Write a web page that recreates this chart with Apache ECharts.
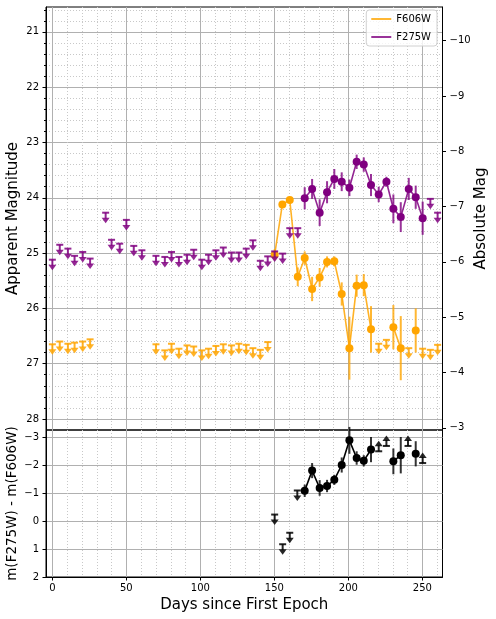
<!DOCTYPE html>
<html>
<head>
<meta charset="utf-8">
<script src="https://cdn.jsdelivr.net/npm/echarts@6/dist/echarts.min.js"></script>
<style>
  html, body { margin: 0; padding: 0; background: #fff; }
  #chart { width: 496px; height: 619px; }
</style>
</head>
<body>
<div id="chart"></div>
<script>
// F275W (purple) detections
const uvDays = [170.5, 175.5, 180.6, 185.6, 190.5, 195.5, 200.7, 205.6, 210.4, 215.3, 220.5, 225.7, 230.4, 235.4, 240.8, 245.5, 250.2];
const uvMag = [24.01, 23.84, 24.27, 23.90, 23.66, 23.71, 23.82, 23.35, 23.40, 23.77, 23.94, 23.71, 24.20, 24.35, 23.84, 23.99, 24.37];
const uvErr = [0.20, 0.18, 0.24, 0.20, 0.18, 0.17, 0.15, 0.13, 0.13, 0.20, 0.14, 0.09, 0.26, 0.27, 0.20, 0.21, 0.30];
// F275W upper limits
const uvLimDays = [0, 5, 10.5, 15, 20.5, 25.5, 36, 40, 45.5, 50, 55, 60.5, 70, 76, 80.5, 85.5, 91, 95.5, 101, 105.5, 110.5, 115.5, 121, 126, 131, 135.5, 140.5, 145.5, 150.2, 155.6, 160.4, 165.8, 255.4, 260.3];
const uvLimMag = [25.12, 24.85, 24.92, 25.05, 24.98, 25.10, 24.27, 24.76, 24.83, 24.40, 24.87, 24.95, 25.05, 25.07, 24.98, 25.07, 25.03, 24.94, 25.12, 25.03, 24.95, 24.90, 24.99, 24.99, 24.92, 24.77, 25.14, 25.06, 24.97, 25.01, 24.55, 24.55, 24.02, 24.27];

// F606W (orange) detections
const visDays = [150.2, 155.4, 160.4, 165.8, 170.5, 175.5, 180.6, 185.6, 190.5, 195.5, 200.7, 205.6, 210.4, 215.3, 230.4, 235.4, 245.5];
const visMag = [25.03, 24.12, 24.04, 25.43, 25.09, 25.65, 25.44, 25.16, 25.15, 25.74, 26.72, 25.59, 25.58, 26.38, 26.34, 26.72, 26.40];
const visErr = [0.10, 0.04, 0.04, 0.17, 0.12, 0.22, 0.17, 0.10, 0.09, 0.21, 0.57, 0.20, 0.20, 0.42, 0.40, 0.58, 0.40];
// F606W upper limits
const visLimDays = [0, 5, 10.5, 15, 20.5, 25.5, 70, 76, 80.5, 85.5, 91, 95.5, 101, 105.5, 110.5, 115.5, 121, 126, 131, 135.5, 140.5, 145.5, 220.5, 225.7, 240.8, 250.2, 255.4, 260.3];
const visLimMag = [26.65, 26.60, 26.64, 26.62, 26.60, 26.56, 26.65, 26.76, 26.64, 26.73, 26.67, 26.69, 26.76, 26.73, 26.68, 26.65, 26.67, 26.64, 26.66, 26.72, 26.75, 26.61, 26.64, 26.57, 26.72, 26.73, 26.75, 26.66];

// colour m(F275W) - m(F606W)
const colDays = [170.5, 175.5, 180.6, 185.6, 190.5, 195.5, 200.7, 205.6, 210.4, 215.3, 230.4, 235.4, 245.5];
const colVal = [-1.08, -1.80, -1.18, -1.25, -1.47, -2.00, -2.88, -2.25, -2.15, -2.55, -2.13, -2.35, -2.40];
const colErr = [0.22, 0.27, 0.28, 0.22, 0.18, 0.27, 0.48, 0.24, 0.20, 0.45, 0.46, 0.65, 0.45];
const colUpDays = [150.2, 155.6, 160.4, 165.5];      // arrows pointing down
const colUpVal = [-0.23, 0.83, 0.42, -1.09];
const colLoDays = [220.5, 225.7, 240.3, 250.2];      // arrows pointing up
const colLoVal = [-2.49, -2.68, -2.68, -2.07];

// ticks
const dayTicks = [0, 50, 100, 150, 200, 250];
const appTicks = [21, 22, 23, 24, 25, 26, 27, 28];
const absTicks = [-10, -9, -8, -7, -6, -5, -4, -3];
const colTicks = [-3, -2, -1, 0, 1, 2];
const distMod = 31.16;

const dayMinor = [];
for (let d = 10; d < 264; d += 10) if (d % 50 !== 0) dayMinor.push(d);
const appMinor = [];
for (let i = 103; i <= 140; i++) if (i % 5 !== 0) appMinor.push(Math.round(i * 2) / 10);

const ORANGE = '#ffa500';
const PURPLE = '#800080';
const FONT = 'DejaVu Sans';
const minus = v => String(v).replace('-', '\u2212');

// line through detections, broken where an epoch only has a limit
function lineData(days, mags, limDays) {
    const pts = days.map((d, i) => [d, mags[i]]);
    limDays.forEach(d => pts.push([d, null]));
    pts.sort((a, b) => a[0] - b[0]);
    const first = days[0];
    return pts.filter(p => p[0] >= first);
}

function errSeries(name, days, vals, errs, color, xi, yi) {
    return {
        name: name, type: 'custom', xAxisIndex: xi, yAxisIndex: yi,
        data: days.map((d, i) => [d, vals[i] - errs[i], vals[i] + errs[i]]),
        encode: {x: 0, y: [1, 2]},
        z: 3,
        renderItem: function (params, api) {
            const a = api.coord([api.value(0), api.value(1)]);
            const b = api.coord([api.value(0), api.value(2)]);
            return {
                type: 'line',
                shape: {x1: a[0], y1: a[1], x2: b[0], y2: b[1]},
                style: {stroke: color, lineWidth: 2, opacity: 0.8}
            };
        }
    };
}

// dir = 1 arrow pointing down the page, -1 pointing up
function limSeries(name, days, vals, color, dir, xi, yi) {
    return {
        name: name, type: 'custom', xAxisIndex: xi, yAxisIndex: yi,
        data: days.map((d, i) => [d, vals[i]]),
        encode: {x: 0, y: 1},
        z: 4,
        renderItem: function (params, api) {
            const p = api.coord([api.value(0), api.value(1)]);
            const x = p[0], y = p[1];
            return {
                type: 'group',
                children: [
                    {type: 'line', shape: {x1: x - 3.5, y1: y, x2: x + 3.5, y2: y},
                        style: {stroke: color, lineWidth: 2, opacity: 0.85}},
                    {type: 'line', shape: {x1: x, y1: y, x2: x, y2: y + 6 * dir},
                        style: {stroke: color, lineWidth: 2, opacity: 0.85}},
                    {type: 'polygon', shape: {points: [[x - 4, y + 5 * dir], [x + 4, y + 5 * dir], [x, y + 10.5 * dir]]},
                        style: {fill: color, opacity: 0.85}}
                ]
            };
        }
    };
}

const labelStyle = {fontFamily: FONT, fontSize: 10, color: '#000'};
const majorGrid = {show: true, lineStyle: {color: '#b0b0b0', width: 1, type: 'solid'}};
const minorGrid = {show: true, lineStyle: {color: '#c8c8c8', width: 1, type: [1, 2]}};
const nameStyle = {fontFamily: FONT, fontSize: 15, color: '#000'};
const blackLine = {show: true, onZero: false, lineStyle: {color: '#000'}};
const noLine = {show: false, onZero: false};

const chart = echarts.init(document.getElementById('chart'), null, {renderer: 'canvas'});
chart.setOption({
    animation: false,
    backgroundColor: '#fff',
    grid: [
        {left: 46, right: 53.5, top: 7, height: 423, show: true, borderColor: '#000', borderWidth: 1,
            outerBoundsMode: 'none', containLabel: false},
        {left: 46, right: 53.5, top: 430, height: 147, show: true, borderColor: '#000', borderWidth: 1,
            outerBoundsMode: 'none', containLabel: false}
    ],
    legend: {
        data: [{name: 'F606W', itemStyle: {opacity: 0.8}}, {name: 'F275W', itemStyle: {opacity: 0.8}}],
        orient: 'vertical', right: 59, top: 10,
        icon: 'rect', itemWidth: 20, itemHeight: 2, itemGap: 8,
        padding: [4, 6, 4, 5],
        borderColor: '#d0d0d0', borderWidth: 1, borderRadius: 3,
        backgroundColor: 'rgba(255,255,255,0.8)',
        textStyle: {fontFamily: FONT, fontSize: 10, color: '#000'}
    },
    xAxis: [
        {gridIndex: 0, type: 'value', min: -4.3, max: 263.6,
            axisLine: noLine, axisTick: {show: false, customValues: dayTicks},
            axisLabel: {show: false, customValues: dayTicks}, splitLine: majorGrid},
        {gridIndex: 0, type: 'value', min: -4.3, max: 263.6, position: 'top',
            axisLine: noLine, axisTick: {show: false, customValues: dayMinor},
            axisLabel: {show: false, customValues: dayMinor}, splitLine: minorGrid},
        {gridIndex: 1, type: 'value', min: -4.3, max: 263.6,
            name: 'Days since First Epoch', nameLocation: 'middle', nameGap: 21, nameTextStyle: nameStyle,
            nameMoveOverlap: false,
            axisLine: blackLine,
            axisTick: {show: true, length: 3.5, customValues: dayTicks, lineStyle: {color: '#000'}},
            axisLabel: Object.assign({margin: 6, customValues: dayTicks}, labelStyle), splitLine: majorGrid},
        {gridIndex: 1, type: 'value', min: -4.3, max: 263.6, position: 'top',
            axisLine: noLine, axisTick: {show: false, customValues: dayMinor},
            axisLabel: {show: false, customValues: dayMinor}, splitLine: minorGrid}
    ],
    yAxis: [
        {gridIndex: 0, type: 'value', inverse: true, min: 20.55, max: 28.2, position: 'left',
            name: 'Apparent Magnitude', nameLocation: 'middle', nameGap: 25, nameTextStyle: nameStyle,
            nameMoveOverlap: false,
            axisLine: blackLine,
            axisTick: {show: true, length: 3.5, customValues: appTicks, lineStyle: {color: '#000'}},
            axisLabel: Object.assign({margin: 7, customValues: appTicks}, labelStyle), splitLine: majorGrid},
        {gridIndex: 0, type: 'value', inverse: true, min: 20.55, max: 28.2, position: 'left',
            axisLine: noLine,
            axisTick: {show: true, length: 2, customValues: appMinor, lineStyle: {color: '#000'}},
            axisLabel: {show: false, customValues: appMinor}, splitLine: minorGrid},
        {gridIndex: 0, type: 'value', inverse: true, min: 20.55 - distMod, max: 28.2 - distMod, position: 'right',
            name: 'Absolute Mag', nameLocation: 'middle', nameGap: 31, nameTextStyle: nameStyle,
            nameMoveOverlap: false,
            axisLine: blackLine,
            axisTick: {show: true, length: 3.5, customValues: absTicks, lineStyle: {color: '#000'}},
            axisLabel: Object.assign({margin: 7, customValues: absTicks, formatter: minus}, labelStyle),
            splitLine: {show: false}},
        {gridIndex: 1, type: 'value', inverse: true, min: -3.25, max: 2, position: 'left',
            name: 'm(F275W) - m(F606W)', nameLocation: 'middle', nameGap: 27,
            nameTextStyle: {fontFamily: FONT, fontSize: 13.5, color: '#000'},
            nameMoveOverlap: false,
            axisLine: blackLine,
            axisTick: {show: true, length: 3.5, customValues: colTicks, lineStyle: {color: '#000'}},
            axisLabel: Object.assign({margin: 7, customValues: colTicks, formatter: minus}, labelStyle),
            splitLine: majorGrid}
    ],
    series: [
        errSeries('F606W err', visDays, visMag, visErr, ORANGE, 0, 0),
        {
            name: 'F606W', type: 'line', xAxisIndex: 0, yAxisIndex: 0,
            data: lineData(visDays, visMag, visLimDays), connectNulls: false,
            symbol: 'circle', symbolSize: 8, z: 3,
            itemStyle: {color: ORANGE},
            lineStyle: {color: ORANGE, width: 1.6, opacity: 0.85}
        },
        limSeries('F606W lim', visLimDays, visLimMag, ORANGE, 1, 0, 0),
        errSeries('F275W err', uvDays, uvMag, uvErr, PURPLE, 0, 0),
        {
            name: 'F275W', type: 'line', xAxisIndex: 0, yAxisIndex: 0,
            data: lineData(uvDays, uvMag, uvLimDays), connectNulls: false,
            symbol: 'circle', symbolSize: 8, z: 4,
            itemStyle: {color: PURPLE},
            lineStyle: {color: PURPLE, width: 1.6, opacity: 0.85}
        },
        limSeries('F275W lim', uvLimDays, uvLimMag, PURPLE, 1, 0, 0),

        errSeries('colour err', colDays, colVal, colErr, '#000', 2, 3),
        {
            name: 'colour', type: 'line', xAxisIndex: 2, yAxisIndex: 3,
            data: lineData(colDays, colVal, colLoDays), connectNulls: false,
            symbol: 'circle', symbolSize: 8, z: 4,
            itemStyle: {color: '#000'},
            lineStyle: {color: '#000', width: 1.6}
        },
        limSeries('colour upper', colUpDays, colUpVal, '#000', 1, 2, 3),
        limSeries('colour lower', colLoDays, colLoVal, '#000', -1, 2, 3)
    ]
});
</script>
</body>
</html>
